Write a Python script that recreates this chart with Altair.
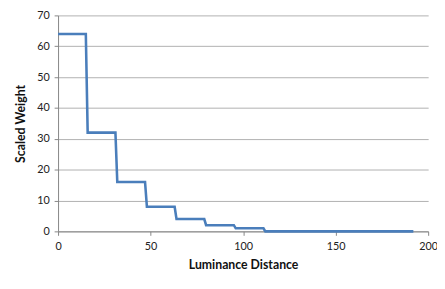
import altair as alt
import pandas as pd

dist = [0, 15, 16, 31, 32, 47, 48, 63, 64, 79, 80, 95, 96, 111, 112, 192]
weight = [64, 64, 32, 32, 16, 16, 8, 8, 4, 4, 2, 2, 1, 1, 0, 0]

df = pd.DataFrame({"d": dist, "w": weight})

font = "Lato"

chart = alt.Chart(df).mark_line(color="#4a7ebb", strokeWidth=2.6).encode(
    x=alt.X("d:Q", title="Luminance Distance",
            scale=alt.Scale(domain=[0, 200], nice=False, zero=False),
            axis=alt.Axis(values=[0, 50, 100, 150, 200], grid=False,
                          domainColor="#868686", tickColor="#868686", tickSize=4,
                          labelFont=font, labelFontSize=11, labelColor="#222222",
                          labelPadding=5, titleFont=font, titleFontSize=12.5,
                          titleFontWeight="bold", titleColor="#111111", titlePadding=8,
                          labelFlush=False)),
    y=alt.Y("w:Q", title="Scaled Weight",
            scale=alt.Scale(domain=[0, 70], nice=False),
            axis=alt.Axis(values=[0, 10, 20, 30, 40, 50, 60, 70], grid=True,
                          gridColor="#b0b0b0", domainColor="#868686",
                          tickColor="#868686", tickSize=4,
                          labelFont=font, labelFontSize=11, labelColor="#222222",
                          labelPadding=5, titleFont=font, titleFontSize=12.5,
                          titleFontWeight="bold", titleColor="#111111", titlePadding=9)),
    order=alt.Order("d:Q"),
).properties(
    width=377, height=220,
    autosize=alt.AutoSizeParams(type="none"),
    padding={"left": 51, "top": 5, "right": 9, "bottom": 48},
).configure_view(stroke=None).configure_axis(domainWidth=1)

chart.save("out.html", embed_options={"renderer": "svg", "actions": False})
